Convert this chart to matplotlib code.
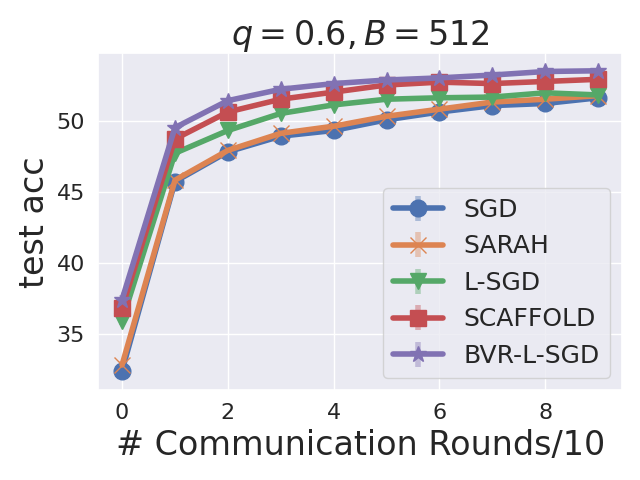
import matplotlib
matplotlib.use("Agg")
import matplotlib.pyplot as plt
import seaborn as sns

# ------------------------------------------
# Data
# ------------------------------------------

rounds = [0, 1, 2, 3, 4, 5, 6, 7, 8, 9]

sgd = [32.4, 45.7, 47.8, 48.9, 49.3, 50.05, 50.6, 51.05, 51.2, 51.6]
sarah = [32.8, 45.8, 47.9, 49.1, 49.6, 50.3, 50.8, 51.3, 51.5, 51.75]
lsgd = [35.9, 47.7, 49.3, 50.5, 51.1, 51.5, 51.6, 51.65, 51.95, 51.8]
scaffold = [36.8, 48.7, 50.6, 51.5, 52.0, 52.5, 52.7, 52.6, 52.75, 52.9]
bvr = [37.4, 49.5, 51.4, 52.2, 52.6, 52.85, 53.0, 53.2, 53.45, 53.5]

err = [0.3, 0.2, 0.15, 0.15, 0.15, 0.15, 0.15, 0.15, 0.15, 0.15]

labels = ["SGD", "SARAH", "L-SGD", "SCAFFOLD", "BVR-L-SGD"]
markers = ["o", "x", "v", "s", "*"]

# ------------------------------------------
# Plot
# ------------------------------------------

sns.set_theme(style="darkgrid")

fig, ax = plt.subplots(figsize=(6.4, 4.8), dpi=100)

for vals, label, mk in zip([sgd, sarah, lsgd, scaffold, bvr], labels, markers):
    cont = ax.errorbar(
        rounds,
        vals,
        yerr=err,
        label=label,
        marker=mk,
        markersize=12,
        linewidth=4,
        elinewidth=4,
    )
    for bar in cont[2]:
        bar.set_alpha(0.4)

ax.set_title(r"$q=0.6, B=512$", fontsize=24)
ax.set_xlabel("# Communication Rounds/10", fontsize=24)
ax.set_ylabel("test acc", fontsize=24)
ax.tick_params(labelsize=16)
ax.set_xticks([0, 2, 4, 6, 8])
ax.set_yticks([35, 40, 45, 50])

ax.legend(fontsize=18, loc="lower right")

plt.tight_layout()

plt.savefig("out.png")
